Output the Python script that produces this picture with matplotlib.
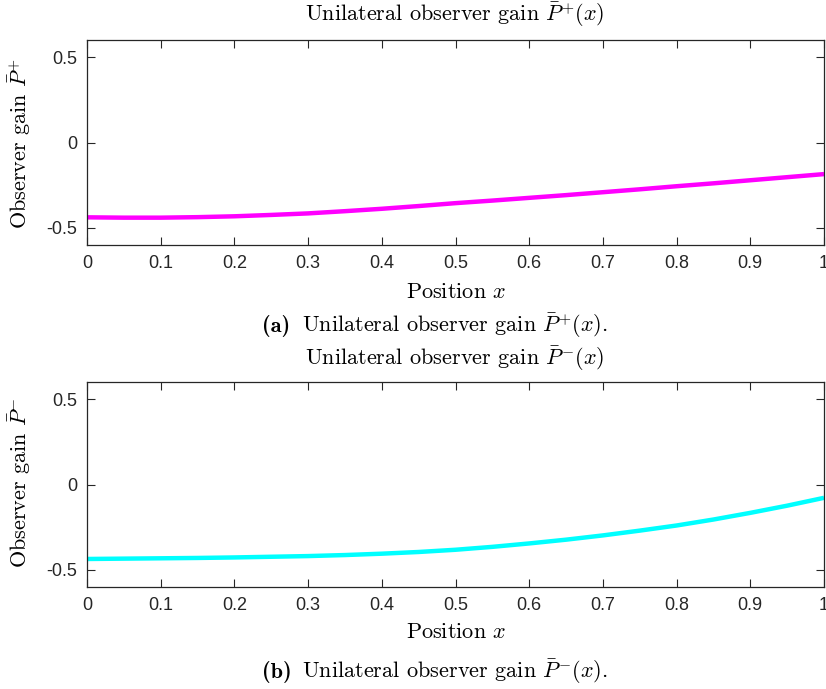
import numpy as np
import matplotlib
matplotlib.use("Agg")
import matplotlib.pyplot as plt

plt.rcParams['mathtext.fontset'] = 'cm'
plt.rcParams['axes.unicode_minus'] = False

# position grid and gains
x = [0.00, 0.05, 0.10, 0.15, 0.20, 0.25, 0.30, 0.35, 0.40, 0.45, 0.50,
     0.55, 0.60, 0.65, 0.70, 0.75, 0.80, 0.85, 0.90, 0.95, 1.00]
p_plus = [-0.438, -0.440, -0.440, -0.437, -0.432, -0.424, -0.415, -0.402, -0.388, -0.372, -0.355,
          -0.340, -0.324, -0.308, -0.291, -0.274, -0.256, -0.239, -0.221, -0.203, -0.185]
p_minus = [-0.436, -0.434, -0.432, -0.430, -0.427, -0.423, -0.419, -0.413, -0.405, -0.395, -0.382,
           -0.365, -0.345, -0.323, -0.298, -0.270, -0.240, -0.205, -0.166, -0.124, -0.078]

xticks = [0, 0.1, 0.2, 0.3, 0.4, 0.5, 0.6, 0.7, 0.8, 0.9, 1]
xticklabels = ['0', '0.1', '0.2', '0.3', '0.4', '0.5', '0.6', '0.7', '0.8', '0.9', '1']
yticks = [-0.5, 0, 0.5]
yticklabels = ['-0.5', '0', '0.5']

W, H = 826, 689
fig = plt.figure(figsize=(W / 100, H / 100), dpi=100)

grey = '#262626'
serif = 'cmr10'


def fx(px):
    return px / W


def fy(py):
    return 1 - py / H


def make_axes(top_px, ydata, color, sign, ylab_y):
    ax = fig.add_axes([fx(87), fy(top_px + 205), 737 / W, 205 / H])
    ax.plot(x, ydata, color=color, lw=3.2, solid_capstyle='butt')
    ax.set_xlim(0, 1)
    ax.set_ylim(-0.6, 0.6)
    ax.set_xticks(xticks)
    ax.set_xticklabels(xticklabels)
    ax.set_yticks(yticks)
    ax.set_yticklabels(yticklabels)
    ax.tick_params(direction='in', length=6, width=0.8, color=grey,
                   top=True, right=True, labelsize=13, labelcolor=grey, pad=7)
    for lab in ax.get_xticklabels() + ax.get_yticklabels():
        lab.set_fontfamily('Liberation Sans')
    for s in ax.spines.values():
        s.set_color(grey)
        s.set_linewidth(0.9)
    fig.text(fx(20), fy(ylab_y), r'Observer gain $\bar{P}^{%s}$' % sign,
             rotation=90, ha='center', va='center', fontsize=16, family=serif)
    return ax


def caption(letter, sign, y_px):
    fig.text(fx(262), fy(y_px), '(%s)' % letter,
             ha='left', va='center', fontsize=16, family='cmb10')
    fig.text(fx(302), fy(y_px), r'Unilateral observer gain $\bar{P}^{%s}(x)$.' % sign,
             ha='left', va='center', fontsize=16, family=serif)


ax1 = make_axes(40, p_plus, '#ff00ff', '+', 143)
ax2 = make_axes(382, p_minus, '#00ffff', '-', 483)

fig.text(fx(455), fy(15), r'Unilateral observer gain $\bar{P}^{+}(x)$',
         ha='center', va='center', fontsize=16, family=serif)
fig.text(fx(456), fy(292), r'Position $x$',
         ha='center', va='center', fontsize=16, family=serif)
caption('a', '+', 326)

fig.text(fx(455), fy(359), r'Unilateral observer gain $\bar{P}^{-}(x)$',
         ha='center', va='center', fontsize=16, family=serif)
fig.text(fx(456), fy(632), r'Position $x$',
         ha='center', va='center', fontsize=16, family=serif)
caption('b', '-', 672)

fig.savefig('out.png', dpi=100)
